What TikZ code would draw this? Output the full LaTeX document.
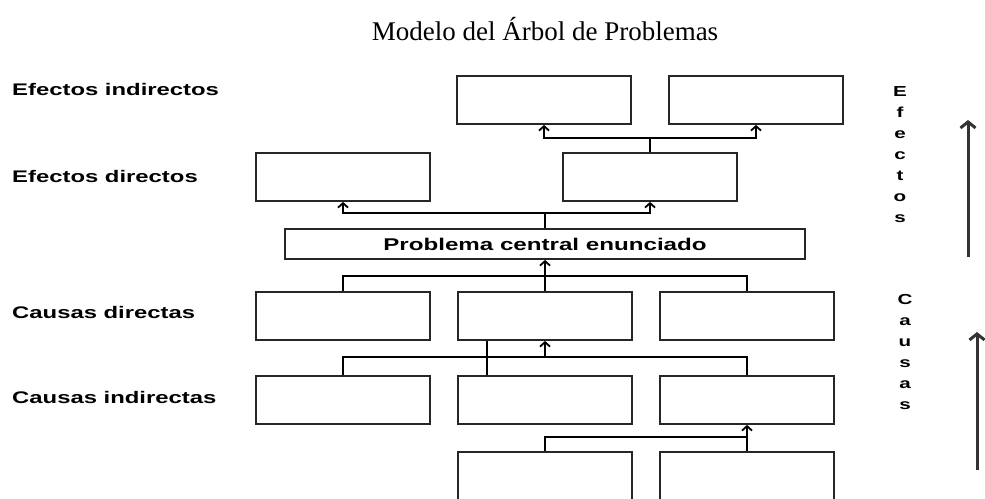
\documentclass[tikz,border=0pt]{standalone}
\usepackage{fontspec}
\setmainfont{Liberation Serif}
\setsansfont{Liberation Sans}
\usetikzlibrary{arrows.meta}
\newcommand{\ancho}[1]{\scalebox{1.42}[1]{#1}}
\tikzset{%
        caja/.style = {draw = black!85, line width = 1.8pt, minimum width = 174pt, minimum height = 48pt, inner sep = 0pt},
        linea/.style = {draw = black, line width = 1.8pt},
        flecha/.style = {linea, -{Straight Barb[length = 4.5pt, width = 10pt]}},
        grande/.style = {draw = black!80, line width = 3pt, -{Straight Barb[length = 6pt, width = 15pt]}},
        rotulo/.style = {anchor = base west, inner sep = 0pt, font = \sffamily\bfseries\fontsize{16.8}{18}\selectfont},
        letras/.style = {align = center, inner sep = 0pt, font = \sffamily\bfseries\fontsize{14.5}{21}\selectfont}
}
\begin{document}
\begin{tikzpicture}[x=1pt, y=-1pt]
            \useasboundingbox (0,0) rectangle (985,498);
            \clip (0,0) rectangle (985,498);
            % titulo
            \node[anchor = base, font = \fontsize{27}{30}\selectfont] (titulo) at (545,40) {Modelo del Árbol de Problemas};
            % rotulos
            \node[rotulo] (efind) at (12,95) {\ancho{Efectos indirectos}};
            \node[rotulo] (efdir) at (12,182) {\ancho{Efectos directos}};
            \node[rotulo] (cadir) at (12,318) {\ancho{Causas directas}};
            \node[rotulo] (caind) at (12,403) {\ancho{Causas indirectas}};
            % cajas
            \node[caja] (ei1) at (544,100) {};
            \node[caja] (ei2) at (756,100) {};
            \node[caja] (ed1) at (343,177) {};
            \node[caja] (ed2) at (650,177) {};
            \node[caja, minimum width = 520pt, minimum height = 30pt, text height = 12pt, text depth = 0pt,
                  font = \sffamily\bfseries\fontsize{17}{18}\selectfont] (prob) at (545,244) {\ancho{Problema central enunciado}};
            \node[caja] (cd1) at (343,316) {};
            \node[caja] (cd2) at (545,316) {};
            \node[caja] (cd3) at (747,316) {};
            \node[caja] (ci1) at (343,400) {};
            \node[caja] (ci2) at (545,400) {};
            \node[caja] (ci3) at (747,400) {};
            \node[caja, minimum height = 50pt] (cs1) at (545,477) {};
            \node[caja, minimum height = 50pt] (cs2) at (747,477) {};
            % efectos
            \draw[linea] (ed2.north) -- ++(0,-14) coordinate (r1);
            \draw[flecha] (r1) -| (ei1.south);
            \draw[flecha] (r1) -| (ei2.south);
            \draw[linea] (prob.north) -- ++(0,-15) coordinate (r2);
            \draw[flecha] (r2) -| (ed1.south);
            \draw[flecha] (r2) -| (ed2.south);
            % causas
            \draw[flecha] (cd2.north) -- (prob.south);
            \draw[linea] (cd1.north) -- ++(0,-15) -| (cd3.north);
            \draw[linea] (ci1.north) -- ++(0,-18) coordinate (r3) -| (ci3.north);
            \draw[flecha] (r3 -| cd2.south) -- (cd2.south);
            \draw[linea] ([xshift = -58pt]cd2.south) -- ([xshift = -58pt]ci2.north);
            \draw[linea] (cs1.north) -- ++(0,-14) -| (cs2.north);
            \draw[flecha] (cs2.north) -- (ci3.south);
            % lado derecho
            \node[letras] (efectos) at (900,155) {\ancho{E}\\\ancho{f}\\\ancho{e}\\\ancho{c}\\\ancho{t}\\\ancho{o}\\\ancho{s}};
            \node[letras] (causas) at (905,352) {\ancho{C}\\\ancho{a}\\\ancho{u}\\\ancho{s}\\\ancho{a}\\\ancho{s}};
            \coordinate (ef0) at (968,257);
            \coordinate (ef1) at (968,120);
            \coordinate (ca0) at (977,470);
            \coordinate (ca1) at (977,332);
            \draw[grande] (ef0) -- (ef1);
            \draw[grande] (ca0) -- (ca1);
\end{tikzpicture}
\end{document}
